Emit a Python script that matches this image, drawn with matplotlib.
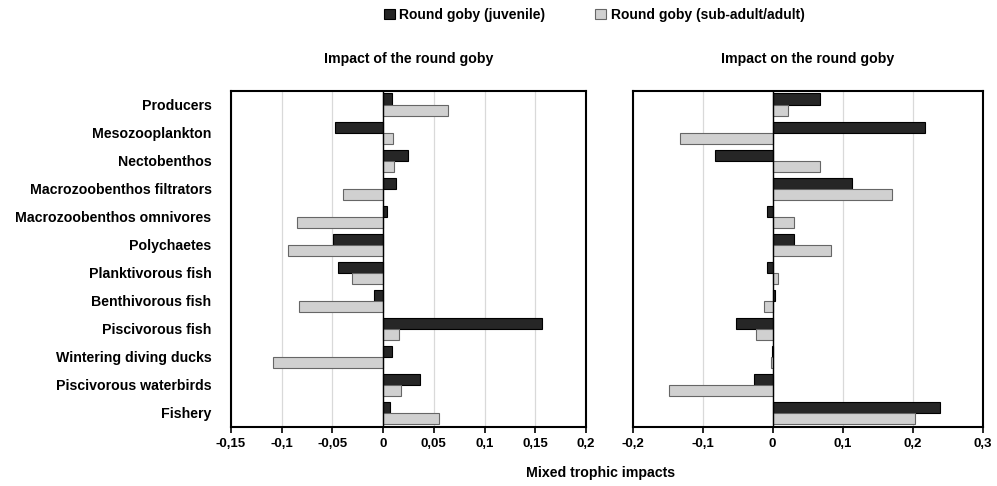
import numpy as np
import matplotlib.pyplot as plt
from matplotlib.ticker import FuncFormatter

categories = ["Producers", "Mesozooplankton", "Nectobenthos", "Macrozoobenthos filtrators",
              "Macrozoobenthos omnivores", "Polychaetes", "Planktivorous fish", "Benthivorous fish",
              "Piscivorous fish", "Wintering diving ducks", "Piscivorous waterbirds", "Fishery"]

# impact of the round goby
of_juvenile = [0.009, -0.047, 0.025, 0.013, 0.004, -0.049, -0.044, -0.009, 0.157, 0.009, 0.036, 0.007]
of_adult = [0.064, 0.0095, 0.0105, -0.040, -0.085, -0.094, -0.031, -0.083, 0.016, -0.109, 0.018, 0.055]

# impact on the round goby
on_juvenile = [0.067, 0.218, -0.083, 0.113, -0.008, 0.030, -0.008, 0.004, -0.052, -0.0015, -0.026, 0.239]
on_adult = [0.022, -0.133, 0.067, 0.171, 0.030, 0.083, 0.007, -0.012, -0.024, -0.003, -0.148, 0.204]

legend_labels = ["Round goby (juvenile)", "Round goby (sub-adult/adult)"]

plt.rcParams['font.family'] = ['Liberation Sans', 'DejaVu Sans']
plt.rcParams['font.weight'] = 'bold'

dark = "#262626"
light = "#d0d0d0"

fig = plt.figure(figsize=(9.97, 4.86), dpi=100)
ax1 = fig.add_axes([0.2317, 0.1214, 0.356, 0.6914])
ax2 = fig.add_axes([0.6346, 0.1214, 0.351, 0.6914])

y = np.arange(len(categories))
h = 0.41

def comma(v, pos):
    s = ("%.2f" % v).rstrip("0").rstrip(".")
    if s == "-0":
        s = "0"
    return s.replace(".", ",")

def draw(ax, juv, adu, lim, step):
    ax.barh(y - h / 2, juv, height=h, color=dark, edgecolor="black", linewidth=0.8,
            label=legend_labels[0], zorder=3)
    ax.barh(y + h / 2, adu, height=h, color=light, edgecolor="#666666", linewidth=0.8,
            label=legend_labels[1], zorder=3)
    ax.set_xlim(lim)
    ax.set_ylim(len(categories) - 0.5, -0.5)
    ax.set_xticks(np.arange(lim[0], lim[1] + step / 2, step))
    ax.xaxis.set_major_formatter(FuncFormatter(comma))
    ax.grid(axis="x", color="#d9d9d9", linewidth=0.9, zorder=0)
    ax.axvline(0, color="black", linewidth=1.0, zorder=4)
    for s in ax.spines.values():
        s.set_linewidth(1.5)
        s.set_color("black")
    ax.tick_params(axis="x", direction="out", length=4, width=1.2, labelsize=9.5, pad=4)
    ax.tick_params(axis="y", length=0)

draw(ax1, of_juvenile, of_adult, (-0.15, 0.2), 0.05)
draw(ax2, on_juvenile, on_adult, (-0.2, 0.3), 0.1)

ax1.set_yticks(y)
ax1.set_yticklabels(categories, fontsize=10.2)
ax1.tick_params(axis="y", pad=14)
ax2.set_yticks([])

ax1.set_title("Impact of the round goby", fontsize=10.2, fontweight="bold", pad=20)
ax2.set_title("Impact on the round goby", fontsize=10.2, fontweight="bold", pad=20)

fig.text(0.602, 0.018, "Mixed trophic impacts", ha="center", fontsize=10.2, fontweight="bold")

handles, labels = ax1.get_legend_handles_labels()
fig.legend(handles, labels, loc="upper center", bbox_to_anchor=(0.596, 1.01), ncol=2,
           frameon=False, fontsize=10, handlelength=0.8, handleheight=0.8,
           handletextpad=0.3, columnspacing=3.6)

fig.savefig("out.png", dpi=100)
